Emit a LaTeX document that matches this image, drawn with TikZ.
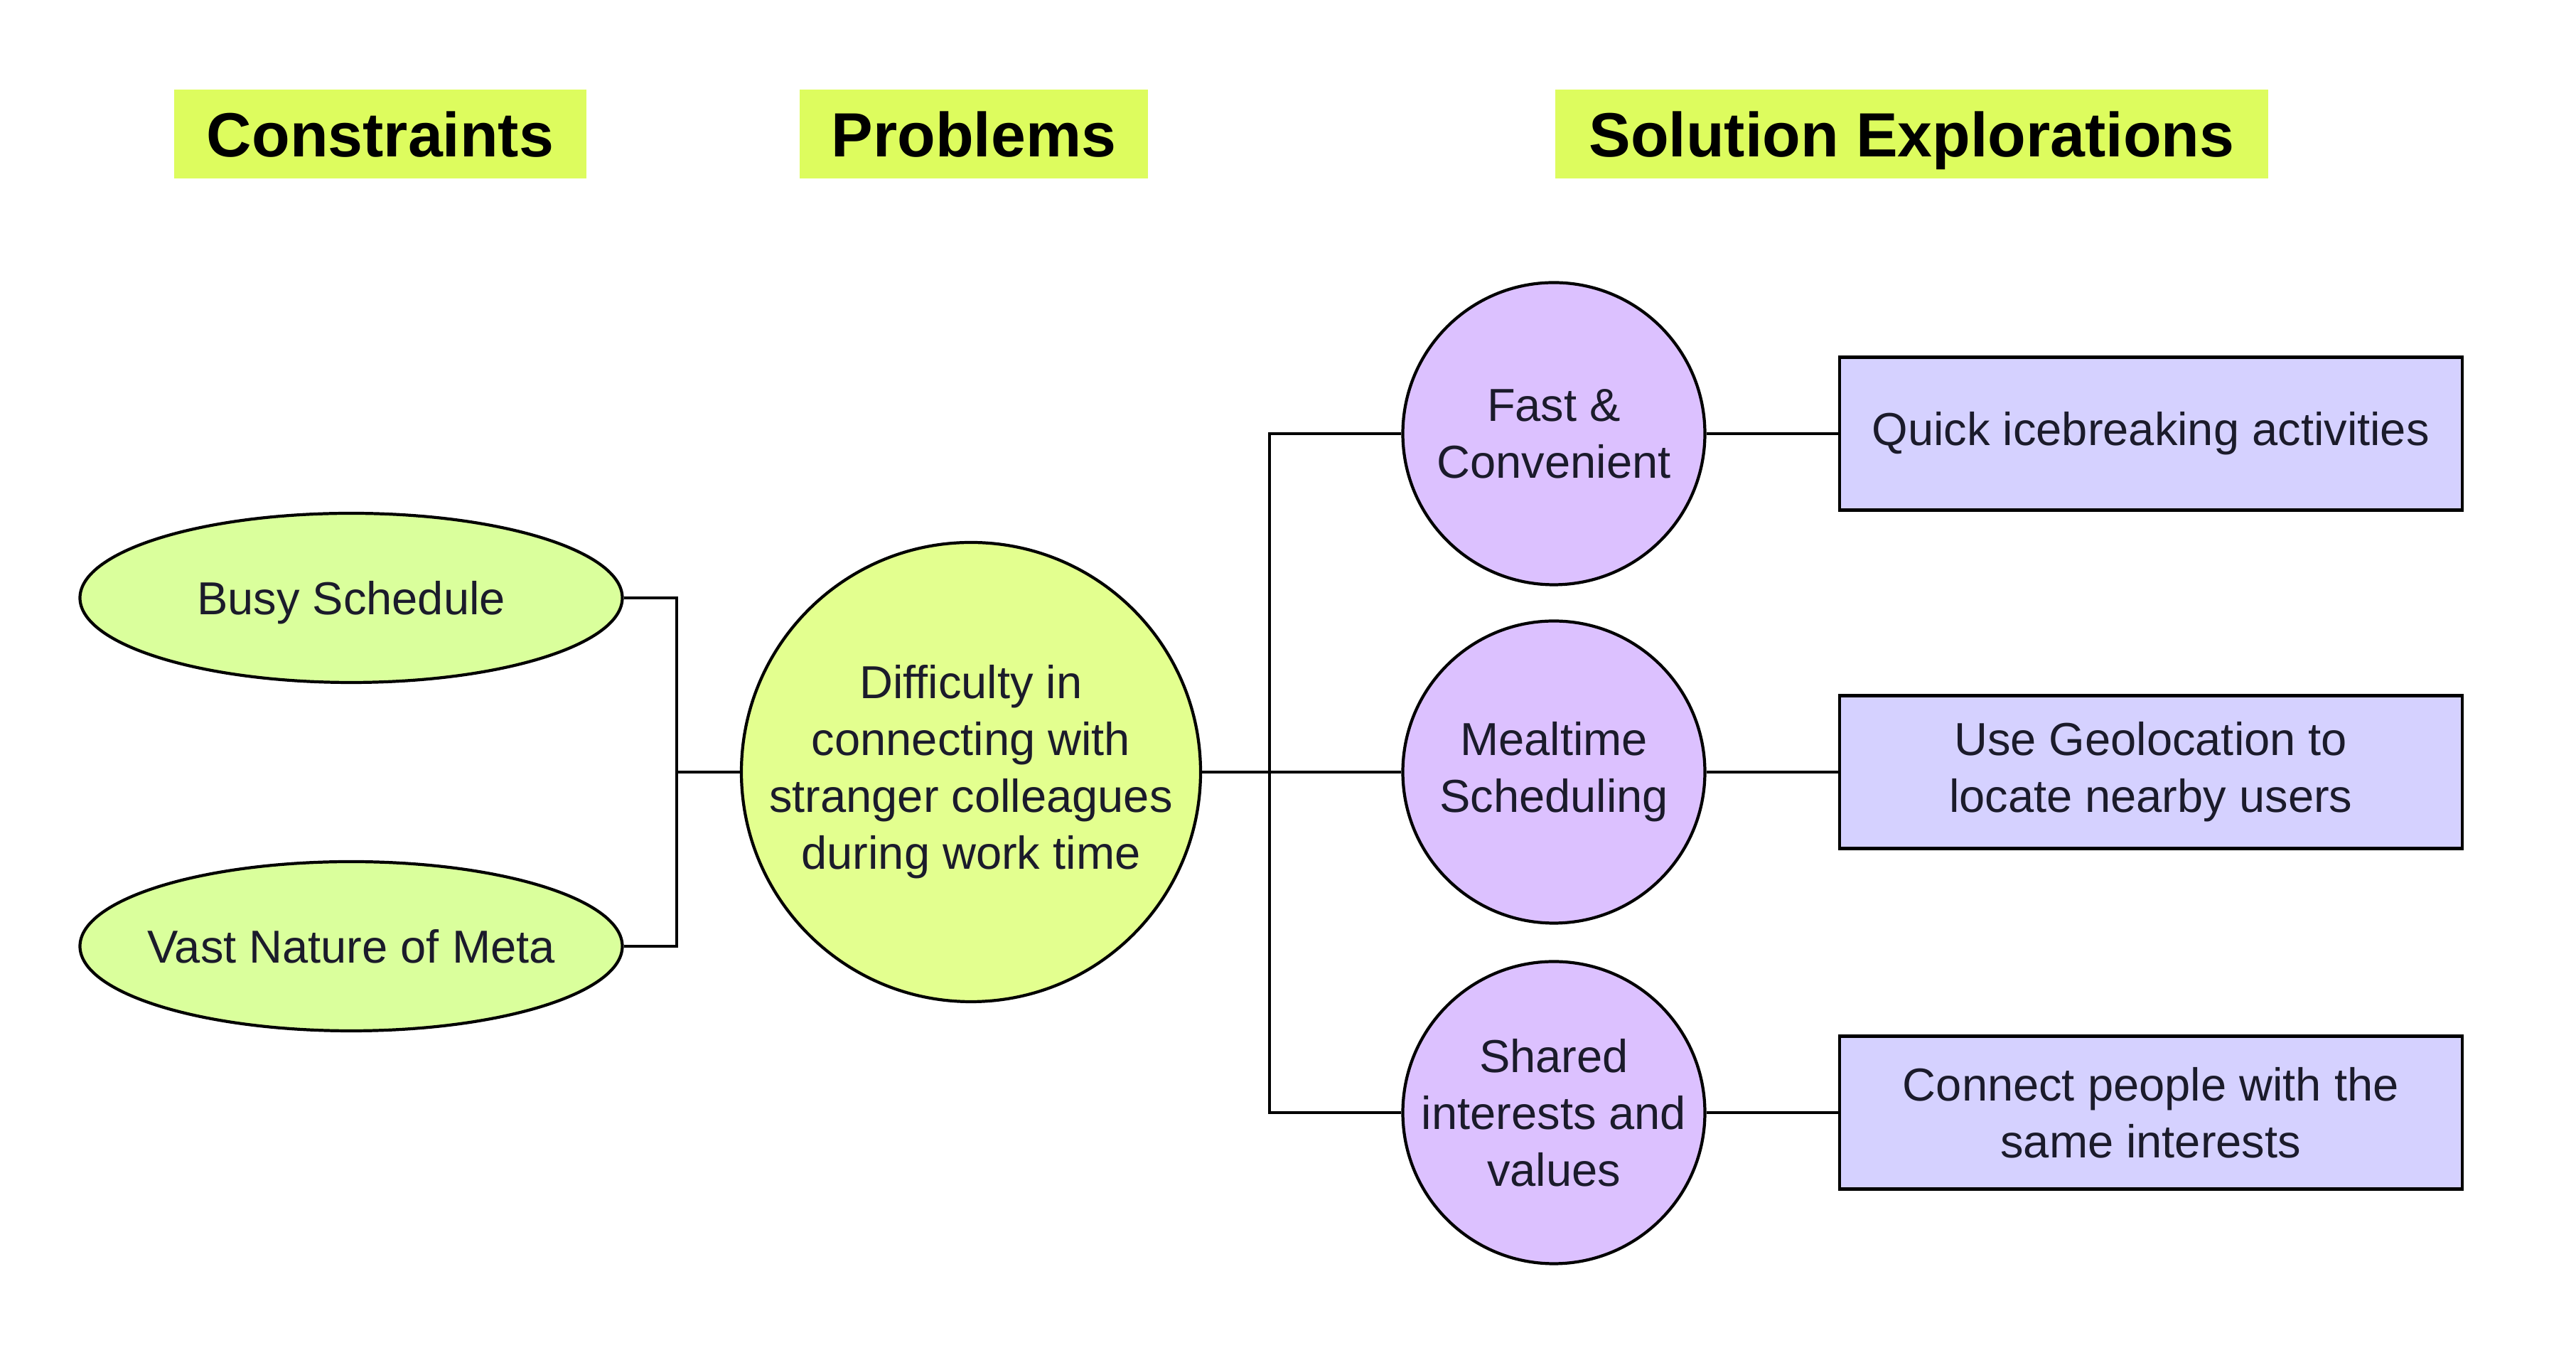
\documentclass[tikz,border=0pt]{standalone}
\usepackage{fontspec}
\setmainfont{Liberation Sans}
\usetikzlibrary{positioning, shapes.geometric}
\definecolor{hdrlime}{HTML}{DDFC5E}
\definecolor{conslime}{HTML}{DAFF9C}
\definecolor{problime}{HTML}{E3FF8F}
\definecolor{explpurple}{HTML}{DCC1FF}
\definecolor{idealav}{HTML}{D5D1FF}
\definecolor{inkdark}{HTML}{1B1B2B}

\begin{document}
\begin{tikzpicture}[
    hdr/.style  = {fill=hdrlime, minimum height=1.25cm, inner sep=0pt,
                   text height=18pt, text depth=0pt,
                   font=\fontsize{25}{30}\selectfont\bfseries},
    txt/.style  = {text=inkdark, align=center,
                   font=\fontsize{18.5}{22.8}\selectfont},
    ctxt/.style = {txt, text height=13.2pt, text depth=0pt},
    cons/.style = {ellipse, draw, line width=1.2pt, fill=conslime,
                   minimum width=7.63cm, minimum height=2.38cm, inner sep=0pt},
    prob/.style = {circle, draw, line width=1.2pt, fill=problime, txt,
                   minimum size=6.46cm, inner sep=0pt},
    expl/.style = {circle, draw, line width=1.2pt, fill=explpurple, txt,
                   minimum size=4.25cm, inner sep=-2pt},
    idea/.style = {draw, line width=1.2pt, fill=idealav, txt,
                   minimum width=8.76cm, minimum height=2.15cm},
    link/.style = {line width=1.2pt},
  ]
    \useasboundingbox (0,0) rectangle (36.24,19.2);

    % column headers
    \node[hdr, minimum width=5.80cm]  (hcons) at (5.35,17.31)   {Constraints};
    \node[hdr, minimum width=4.90cm]  (hprob) at (13.70,17.31)  {Problems};
    \node[hdr, minimum width=10.03cm] (hexpl) at (26.895,17.31) {Solution Explorations};

    % constraints
    \node[cons, label={[ctxt]center:Busy Schedule}] (busy) at (4.94,10.79) {};
    \node[cons, label={[ctxt]center:Vast Nature of Meta}] (vast) at (4.94,5.89) {};

    % problem
    \node[prob] (diff) at (13.66,8.34)
      {Difficulty in\\connecting with\\stranger colleagues\\during work time};

    % explorations
    \node[expl] (fast)   at (21.86,13.10) {Fast \&\\Convenient};
    \node[expl] (meal)   at (21.86,8.34)  {Mealtime\\Scheduling};
    \node[expl] (shared) at (21.86,3.55)  {Shared\\interests and\\values};

    % ideas
    \node[idea, right=1.85cm of fast]   (quick) {Quick icebreaking activities};
    \node[idea, right=1.85cm of meal]   (geo)   {Use Geolocation to\\locate nearby users};
    \node[idea, right=1.85cm of shared] (same)  {Connect people with the\\same interests};

    % connectors
    \coordinate (jl) at (9.52,8.34);
    \coordinate (jr) at (17.86,8.34);
    \draw[link] (busy.east) -| (jl) |- (vast.east);
    \draw[link] (jl) -- (diff.west);
    \draw[link] (fast.west) -| (jr) |- (shared.west);
    \draw[link] (diff.east) -- (meal.west);
    \draw[link] (fast)   -- (quick);
    \draw[link] (meal)   -- (geo);
    \draw[link] (shared) -- (same);
  \end{tikzpicture}
\end{document}
